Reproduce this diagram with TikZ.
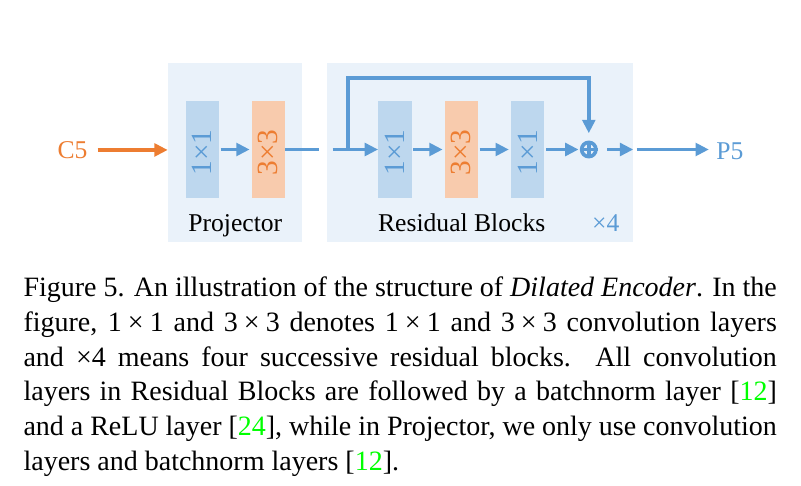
\documentclass[tikz,border=0pt]{standalone}
\usepackage{fontspec}
\setmainfont{Liberation Serif}
\usetikzlibrary{arrows.meta}
\definecolor{bgblue}{HTML}{EAF2FA}
\definecolor{lblue}{HTML}{BDD7EE}
\definecolor{lorange}{HTML}{F8CBAD}
\definecolor{mblue}{HTML}{5B9BD5}
\definecolor{morange}{HTML}{ED7D31}
\definecolor{citegreen}{rgb}{0,1,0}
\newcommand{\tms}{\hspace{0.22em}×\hspace{0.22em}}
\newcommand{\mycite}[1]{[\textcolor{citegreen}{#1}]}
\begin{document}
\begin{tikzpicture}[x=0.75pt,y=-0.75pt,
  panel/.style={fill=bgblue,inner sep=0,minimum height=134.25pt},
  conv/.style={inner sep=0,minimum width=25pt,minimum height=72.5pt},
  convA/.style={conv,fill=lblue},
  convB/.style={conv,fill=lorange},
  clabel/.style={rotate=90,inner sep=0,font=\fontsize{22}{22}\selectfont},
  lbl/.style={inner sep=0,font=\fontsize{19.2}{19.2}\selectfont,anchor=base},
  flow/.style={draw=mblue,line width=2.9pt,-{Triangle[length=10pt,width=9.5pt]}},
  wire/.style={draw=mblue,line width=2.9pt},
]
\useasboundingbox (0,0) rectangle (801,486);

% panels
\node[panel,minimum width=100.5pt] (projbg) at (235,152.5) {};
\node[panel,minimum width=229.5pt] (resbg) at (480,152.5) {};

% conv boxes
\node[convA] (p1) at (202.3,149.5) {};
\node[convB] (p3) at (268.3,149.5) {};
\node[convA] (r1) at (395,149.5) {};
\node[convB] (r3) at (461.3,149.5) {};
\node[convA] (r5) at (527.5,149.5) {};
\node[clabel,text=mblue] (p1t) at (202.3,152.5) {1×1};
\node[clabel,text=morange] (p3t) at (268.3,152.5) {3×3};
\node[clabel,text=mblue] (r1t) at (395,152.5) {1×1};
\node[clabel,text=morange] (r3t) at (461.3,152.5) {3×3};
\node[clabel,text=mblue] (r5t) at (527.5,152.5) {1×1};

% sum
\node[circle,draw=mblue,line width=2.7pt,minimum size=10.7pt,inner sep=0] (plus) at (588.8,149.5) {};
\draw[wire,line width=2.7pt] (plus.north) -- (plus.south);
\draw[wire,line width=2.7pt] (plus.west) -- (plus.east);

% labels
\node[lbl,text=morange] (c5) at (72.5,158.3) {C5};
\node[lbl,text=mblue] (p5) at (730,159.3) {P5};
\node[lbl] (projlbl) at (235.3,231.7) {Projector};
\node[lbl] (reslbl) at (461.7,231.7) {Residual Blocks};
\node[lbl,text=mblue] (times4) at (605.8,231.7) {×4};

% coordinates
\coordinate (gapA) at (319.3,149.5);
\coordinate (gapB) at (332.7,149.5);
\coordinate (br) at (348.3,149.5);
\coordinate (skiptop) at (348.3,78.3);
\coordinate (outA) at (636.7,149.5);

% connectors
\draw[flow,draw=morange,shorten <=7.5pt] (c5.east) -- (c5.east -| projbg.west);
\draw[flow,shorten <=1pt,shorten >=1.3pt] (p1.east) -- (p3.west);
\draw[wire] (p3.east) -- (gapA);
\draw[flow] (gapB) -- (r1.west);
\draw[flow,shorten >=5.5pt] (br) -- (skiptop) -| (plus.north);
\draw[flow,shorten <=1pt,shorten >=1.3pt] (r1.east) -- (r3.west);
\draw[flow,shorten <=1pt,shorten >=1.3pt] (r3.east) -- (r5.west);
\draw[flow,shorten <=1.3pt,shorten >=1pt] (r5.east) -- (plus.west);
\draw[flow,shorten <=7.3pt] (plus.east) -- (plus -| resbg.east);
\draw[flow,shorten >=5.5pt] (outA) -- (outA -| p5.west);

% caption
\node[anchor=base west,inner sep=0,text width=565pt,align=justify,
      font=\fontsize{21}{26}\selectfont] (caption) at (23.3,296.7)
{Figure 5. An illustration of the structure of \textit{Dilated Encoder}. In the\linebreak
figure, 1\tms1 and 3\tms3 denotes 1\tms1 and 3\tms3 convolution layers\linebreak
and ×4 means four successive residual blocks.  All convolution\linebreak
layers in Residual Blocks are followed by a batchnorm layer \mycite{12}\linebreak
and a ReLU layer \mycite{24}, while in Projector, we only use convolution\linebreak
layers and batchnorm layers \mycite{12}.};
\end{tikzpicture}
\end{document}
